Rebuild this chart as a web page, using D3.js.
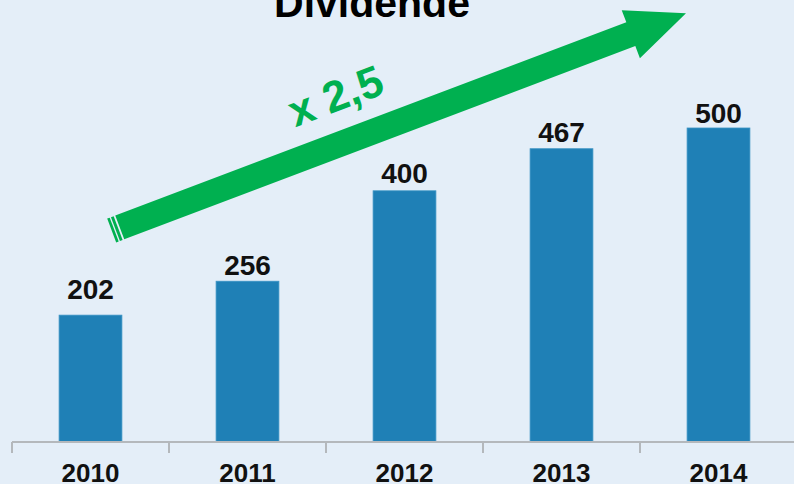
<!DOCTYPE html>
<html>
<head>
<meta charset="utf-8">
<script src="https://cdn.jsdelivr.net/npm/d3@7/dist/d3.min.js"></script>
<style>
  html, body { margin: 0; padding: 0; background: #e4eef8; }
  svg { display: block; font-family: "Liberation Sans", Arial, sans-serif; }
</style>
</head>
<body>
<svg id="chart" width="794" height="484"></svg>
<script>
// ---- data ----
const years = ["2010", "2011", "2012", "2013", "2014"];
const dividends = [202, 256, 400, 467, 500];
const valueLabels = ["202", "256", "400", "467", "500"];
const title = "Dividende";
const growthLabel = "x 2,5";

// ---- layout / annotation config ----
const W = 794, H = 484;
const labelGap = [16, 6, 8, 7, 5];
const colors = { bg: "#e4eef8", bar: "#1f80b6", barEdge: "#3b93c4", green: "#00b050", axis: "#b4b8bc", text: "#111" };

const svg = d3.select("#chart");
svg.append("rect").attr("width", W).attr("height", H).attr("fill", colors.bg);

const x = d3.scaleBand().domain(years).range([12, 797]).paddingInner(0.6).paddingOuter(0.3);
const y = d3.scaleLinear().domain([0, 500]).range([442, 128]);

const data = years.map((yr, i) => ({ yr, v: dividends[i], label: valueLabels[i], gap: labelGap[i] }));

// bars
svg.append("g").selectAll("rect").data(data).join("rect")
  .attr("x", d => x(d.yr))
  .attr("y", d => y(d.v))
  .attr("width", x.bandwidth())
  .attr("height", d => y(0) - y(d.v))
  .attr("fill", colors.bar)
  .attr("stroke", colors.barEdge)
  .attr("stroke-width", 0.8);

// axis
const step = x.step();
const axis = d3.axisBottom(x).tickSize(0).tickPadding(10).tickFormat(d => d);
const gAxis = svg.append("g").attr("transform", `translate(0,${y(0)})`).call(axis);
gAxis.select(".domain").remove();
gAxis.append("line").attr("x1", x.range()[0]).attr("x2", W).attr("y1", 0).attr("y2", 0)
  .attr("stroke", colors.axis).attr("stroke-width", 2);
const boundaries = years.map(d => x(d) - step * x.paddingInner() / 2).concat([x(years[years.length - 1]) + x.bandwidth() + step * x.paddingInner() / 2]);
gAxis.selectAll(".bound").data(boundaries).join("line").attr("class", "bound")
  .attr("x1", d => d).attr("x2", d => d).attr("y1", 0).attr("y2", 11)
  .attr("stroke", colors.axis).attr("stroke-width", 2);
gAxis.selectAll(".tick text")
  .attr("y", 40)
  .attr("dy", 0)
  .attr("font-size", 26)
  .attr("font-weight", "bold")
  .attr("font-family", "Liberation Sans, Arial, sans-serif")
  .attr("fill", colors.text);

// value labels
svg.append("g").selectAll("text").data(data).join("text")
  .attr("x", d => x(d.yr) + x.bandwidth() / 2)
  .attr("y", d => y(d.v) - d.gap)
  .attr("text-anchor", "middle")
  .attr("font-size", 28)
  .attr("font-weight", "bold")
  .attr("fill", colors.text)
  .text(d => d.label);

// title
svg.append("text").attr("x", 372).attr("y", 17).attr("text-anchor", "middle")
  .attr("font-size", 41).attr("font-weight", "bold").attr("fill", "#000").text(title);

// growth arrow
const tail = [111.7, 230.5], tip = [686, 13.3];
const dx = tip[0] - tail[0], dy = tip[1] - tail[1];
const L = Math.hypot(dx, dy);
const ang = Math.atan2(dy, dx) * 180 / Math.PI;
const hw = 12.7, headLen = 59, headHw = 25.7;
const ga = svg.append("g").attr("transform", `translate(${tail[0]},${tail[1]}) rotate(${ang})`);
const bodyStart = 8.6;
ga.append("path").attr("fill", colors.green).attr("d", d3.line()([
  [bodyStart, -hw], [L - headLen, -hw], [L - headLen, -headHw], [L, 0],
  [L - headLen, headHw], [L - headLen, hw], [bodyStart, hw]
]) + "Z");
[[0, 2.7], [4.0, 6.9]].forEach(([a, b]) => {
  ga.append("rect").attr("x", a).attr("y", -hw).attr("width", b - a).attr("height", 2 * hw).attr("fill", colors.green);
});
ga.append("text").attr("x", 257).attr("y", -31.6).attr("text-anchor", "middle")
  .attr("font-size", 44).attr("font-weight", "bold").attr("fill", colors.green).text(growthLabel);
</script>
</body>
</html>
